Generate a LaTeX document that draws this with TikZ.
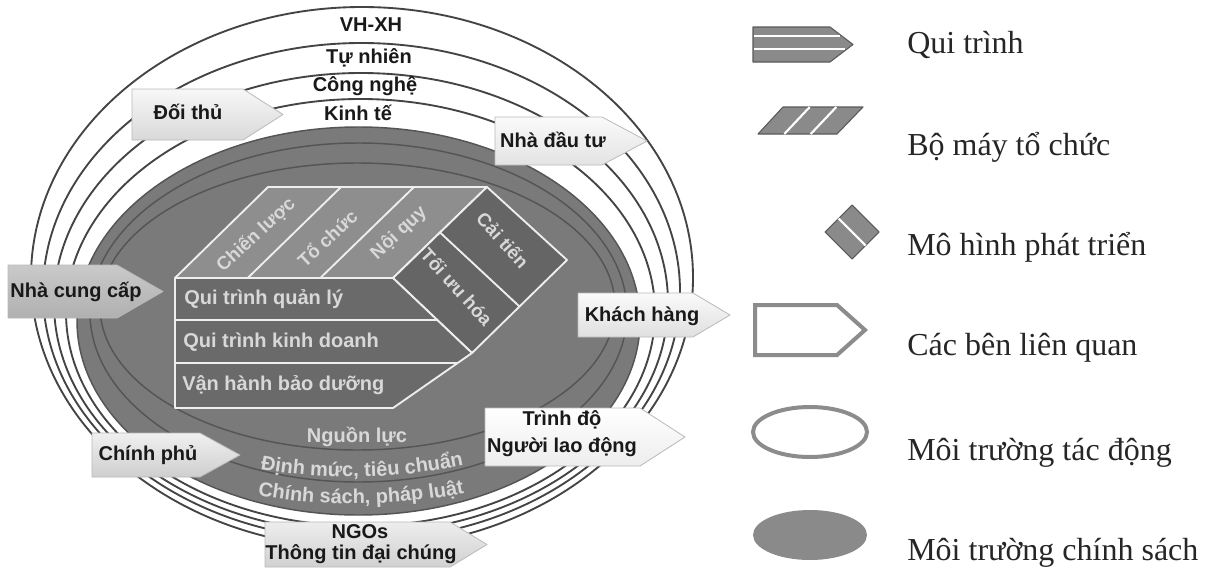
\documentclass[tikz,border=0pt]{standalone}
\usepackage{fontspec}
\setmainfont{Liberation Serif}
\newfontfamily\diagfont{Liberation Sans}
\usetikzlibrary{decorations.text}

\definecolor{ringline}{HTML}{444444}
\definecolor{polfill}{HTML}{7A7A7A}
\definecolor{polline}{HTML}{555555}
\definecolor{topface}{HTML}{8E8E8E}
\definecolor{frontface}{HTML}{6A6A6A}
\definecolor{sideface}{HTML}{656565}
\definecolor{edgewhite}{HTML}{EEEEEE}
\definecolor{lbllight}{HTML}{D8D8D8}
\definecolor{legfill}{HTML}{8A8A8A}
\definecolor{legline}{HTML}{5A5A5A}
\definecolor{legstroke}{HTML}{8C8C8C}

% pentagon tag: style, left, top, bottom, taper start, tip
\newcommand\tagshape[6]{\path[#1] (#2,#3) -- (#5,#3) -- (#6,{(#3+#4)/2}) -- (#5,#4) -- (#2,#4) -- cycle;}
\newcommand\arcfont{\diagfont\bfseries\fontsize{15}{18}\selectfont\color{lbllight}}

\tikzset{
  ring/.style={draw=ringline, line width=1.4pt},
  polring/.style={draw=polline, line width=1.1pt},
  prismface/.style={draw=edgewhite, line width=1.4pt, line join=round},
  stake/.style={draw=gray!55, line width=0.6pt, line join=round},
  lbl/.style={font=\diagfont\bfseries\fontsize{15}{18}\selectfont, text=black!90, inner sep=0pt},
  boxlbl/.style={lbl, text=lbllight},
  slantlbl/.style={boxlbl, font=\diagfont\bfseries\fontsize{14}{17}\selectfont},
  legtxt/.style={font=\fontsize{24}{29}\selectfont, anchor=west, inner sep=0pt, text=black!85},
}

\begin{document}
\begin{tikzpicture}[x=0.75pt, y=-0.75pt]
\fill[white] (0,0) rectangle (1212,571);
\useasboundingbox (0,0) rectangle (1212,571);

% environment rings
\draw[ring] (362,277.5) ellipse [x radius=331, y radius=270.5];
\draw[ring] (361.5,291.5) ellipse [x radius=318.5, y radius=248.5];
\draw[ring] (361,303) ellipse [x radius=307, y radius=230];
\draw[ring] (360.5,312.5) ellipse [x radius=294.5, y radius=213.5];

% policy environment
\path[fill=polfill, draw=polline, line width=1.1pt] (358.5,321) ellipse [x radius=281.5, y radius=194];
\draw[polring] (358.5,312.5) ellipse [x radius=268.5, y radius=169.5];
\draw[polring] (357.5,306.5) ellipse [x radius=257.5, y radius=143.5];

% ring labels
\node[lbl] (vhxh) at (371,25) {VH-XH};
\node[lbl] (tunhien) at (369,58) {Tự nhiên};
\node[lbl] (congnghe) at (365,86) {Công nghệ};
\node[lbl] (kinhte) at (358,113) {Kinh tế};

% prism: top face (organisation)
\path[prismface, fill=topface] (175,278) -- (393,278) -- (487,187) -- (268,187) -- cycle;
\draw[prismface] (247.7,278) -- (341,187);
\draw[prismface] (320.3,278) -- (414,187);
% prism: side face (development model)
\path[prismface, fill=sideface] (393,278) -- (487,187) -- (567,260) -- (472,353) -- cycle;
\draw[prismface] (440,232.5) -- (519.5,306.5);
% prism: front face (processes)
\path[prismface, fill=frontface] (175,278) -- (393,278) -- (472,353) -- (393,408) -- (175,408) -- cycle;
\draw[prismface] (175,320) -- (437.2,320);
\draw[prismface] (175,363) -- (457.6,363);

\node[slantlbl, rotate=43] (chienluoc) at (256,235) {Chiến lược};
\node[slantlbl, rotate=43] (tochuc) at (327,238) {Tổ chức};
\node[slantlbl, rotate=43] (noiquy) at (399,233) {Nội quy};
\node[slantlbl, rotate=-48] (toiuu) at (457,287) {Tối ưu hóa};
\node[slantlbl, rotate=-48] (caitien) at (503,240) {Cải tiến};
\node[boxlbl, anchor=west] (qtql) at (184,299) {Qui trình quản lý};
\node[boxlbl, anchor=west] (qtkd) at (183,342) {Qui trình kinh doanh};
\node[boxlbl, anchor=west] (vhbd) at (182,385) {Vận hành bảo dưỡng};

% policy labels
\node[boxlbl] (nguonluc) at (357,437) {Nguồn lực};
\path[decorate, decoration={text along path, text align=center,
  text={|\arcfont|Định mức, tiêu chuẩn}}]
  (258,469) .. controls (325,481) and (398,479) .. (466,465);
\path[decorate, decoration={text along path, text align=center,
  text={|\arcfont|Chính sách, pháp luật}}]
  (256,495) .. controls (323,508) and (398,506) .. (466,493);

% stakeholders
\tagshape{stake, top color=gray!6, bottom color=gray!30}{132}{89}{140}{243}{283}
\node[lbl] (doithu) at (188,112) {Đối thủ};
\tagshape{stake, top color=gray!4, bottom color=gray!22}{495}{117}{165}{602}{647}
\node[lbl] (nhadautu) at (553,140) {Nhà đầu tư};
\tagshape{stake, top color=gray!42, bottom color=gray!62}{8}{265}{318}{117}{163}
\node[lbl] (nhacungcap) at (76,292) {Nhà cung cấp};
\tagshape{stake, top color=gray!4, bottom color=gray!25}{578}{293}{337}{693}{730}
\node[lbl] (khachhang) at (642,316) {Khách hàng};
\tagshape{stake, top color=gray!12, bottom color=gray!38}{92}{433}{477}{200}{240}
\node[lbl] (chinhphu) at (148,455) {Chính phủ};
\tagshape{stake, top color=white, bottom color=gray!14}{485}{408}{466}{640}{685}
\node[lbl] (trinhdo) at (562,420) {Trình độ};
\node[lbl] (nguoild) at (562,447) {Người lao động};
\tagshape{stake, top color=gray!14, bottom color=gray!36}{265}{522}{567}{450}{487}
\node[lbl] (ngos) at (360,532) {NGOs};
\node[lbl] (thongtin) at (361,554) {Thông tin đại chúng};

% legend: process
\tagshape{fill=legfill, draw=legline, line width=0.8pt, line join=round}{753}{27}{62}{830}{853}
\draw[white, line width=1.6pt] (754,36) -- (840,36);
\draw[white, line width=1.6pt] (754,49) -- (845,49);
\node[legtxt] (lgqt) at (907,45) {Qui trình};
% legend: organisation
\path[fill=legfill, draw=legline, line width=0.8pt, line join=round]
  (758,134) -- (837,134) -- (863,107) -- (783,107) -- cycle;
\draw[white, line width=1.6pt] (784.3,134) -- (809.7,107);
\draw[white, line width=1.6pt] (810.7,134) -- (836.3,107);
\node[legtxt] (lgbm) at (907,147) {Bộ máy tổ chức};
% legend: development model
\path[fill=legfill, draw=legline, line width=0.8pt, line join=round]
  (852,205) -- (879,232) -- (852,259) -- (825,232) -- cycle;
\draw[white, line width=1.6pt] (838.5,218.5) -- (865.5,245.5);
\node[legtxt] (lgmh) at (907,247) {Mô hình phát triển};
% legend: stakeholders
\tagshape{fill=white, draw=legstroke, line width=3pt, line join=miter}{755}{305}{355}{837}{865}
\node[legtxt] (lgcb) at (907,348) {Các bên liên quan};
% legend: impact environment
\draw[legstroke, line width=3pt] (810,432) ellipse [x radius=57, y radius=25];
\node[legtxt] (lgtd) at (907,453) {Môi trường tác động};
% legend: policy environment
\fill[legfill] (810,535) ellipse [x radius=57, y radius=25];
\node[legtxt] (lgcs) at (907,553) {Môi trường chính sách};
\end{tikzpicture}
\end{document}
